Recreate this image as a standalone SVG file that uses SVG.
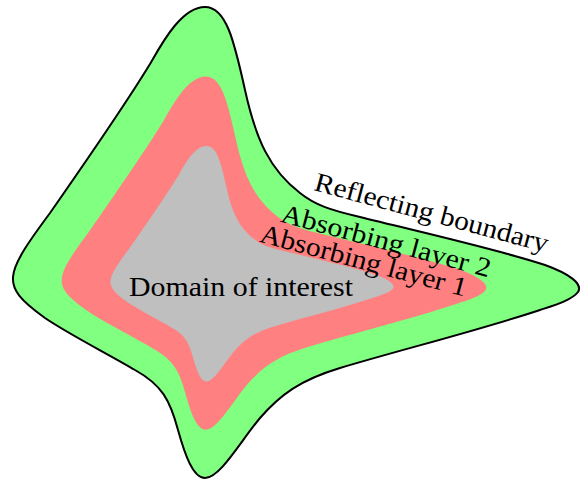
<svg xmlns="http://www.w3.org/2000/svg" width="587" height="480" viewBox="0 0 587 480">
  <style>
    .lbl { font-family: "Liberation Serif", serif; font-size: 27px; fill: #000000; }
  </style>
  <defs>
    <path id="blob" d="M205,7 C226,7 234,40 245,90 S270,170 300,193 C315,205 330,210 360,217 C420,232 500,250 545,265 C570,274 583,284 578,292 C572,300 555,305 540,310 C480,330 400,350 340,368 C300,380 280,395 260,418 C240,442 220,478 205,478 C193,478 185,455 178,430 C170,400 162,385 135,370 C110,355 70,335 45,318 C20,300 12,290 13,277 C14,262 30,240 50,213 C80,170 125,105 150,64 C161,45 181,7 205,7 Z"/>
  </defs>
  <g id="reflecting-boundary">
    <use href="#blob" fill="#80FF80" stroke="#000000" stroke-width="2" stroke-linejoin="round"/>
  </g>
  <g id="absorbing-layer-1">
    <use href="#blob" fill="#FF8080" transform="translate(208 285) scale(0.75) translate(-208 -285)"/>
  </g>
  <g id="domain">
    <use href="#blob" fill="#BFBFBF" transform="translate(208 285) scale(0.5) translate(-208 -285)"/>
  </g>
  <g id="labels">
    <text class="lbl" x="129" y="296" textLength="224" lengthAdjust="spacingAndGlyphs">Domain of interest</text>
    <text class="lbl" transform="translate(313 190) rotate(15)" textLength="241" lengthAdjust="spacingAndGlyphs">Reflecting boundary</text>
    <text class="lbl" transform="translate(279.5 221.5) rotate(15)" textLength="216" lengthAdjust="spacingAndGlyphs">Absorbing layer 2</text>
    <text class="lbl" transform="translate(258.5 241.5) rotate(15)" textLength="213" lengthAdjust="spacingAndGlyphs">Absorbing layer 1</text>
  </g>
</svg>
